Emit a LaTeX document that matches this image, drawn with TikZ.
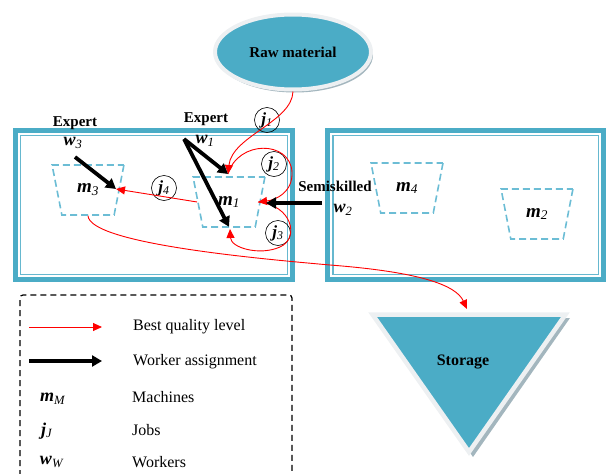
\documentclass[tikz,border=0pt]{standalone}
\usepackage{fontspec}
\setmainfont{Liberation Serif}
\usetikzlibrary{arrows.meta,shapes.geometric,shadows}

\definecolor{tealblue}{HTML}{4BACC6}
\definecolor{paleblue}{HTML}{6CBDD5}
\definecolor{rimgrey}{HTML}{EDF0F2}
\definecolor{shadowgrey}{HTML}{A3B6BE}

\newcommand{\lab}[2]{\textbf{\textit{#1}}\textsubscript{\textit{#2}}}

\tikzset{
  frameout/.style={draw=tealblue, line width=4.6pt},
  framein/.style={draw=tealblue!85, line width=1.2pt},
  machine/.style={trapezium, trapezium stretches=true, shape border rotate=180,
    trapezium angle=71, minimum width=72pt, minimum height=50pt, inner sep=0pt,
    draw=paleblue, line width=1.6pt, dash pattern=on 7pt off 4pt,
    font=\fontsize{19}{19}\selectfont},
  job/.style={circle, draw, line width=0.6pt, minimum size=25pt, inner sep=0pt,
    font=\fontsize{17}{17}\selectfont},
  worker/.style={font=\fontsize{18}{18}\selectfont, inner sep=0pt},
  skill/.style={font=\bfseries\fontsize{15}{15}\selectfont, inner sep=0pt},
  quality/.style={red, line width=0.9pt, -{Triangle[length=9pt,width=8pt]}},
  assign/.style={line width=3.8pt, -{Triangle[length=10pt,width=11pt]}},
  legendtxt/.style={anchor=west, inner sep=0pt, font=\fontsize{16}{16}\selectfont},
}

\begin{document}
\begin{tikzpicture}[x=1pt,y=-1pt]
  \useasboundingbox (0,0) rectangle (606,474);
  % cells
  \draw[frameout] (15.3,130.3) rectangle (292.5,279.5);
  \draw[framein] (20.5,135.5) rectangle (287.5,274.8);
  \draw[frameout] (327.5,130.3) rectangle (603.7,279.5);
  \draw[framein] (333,135.5) rectangle (598.5,274.8);

  % raw material and storage
  \node[ellipse, fill=tealblue, draw=rimgrey, line width=4pt,
    minimum width=156pt, minimum height=75pt,
    drop shadow={shadow xshift=2pt, shadow yshift=-3pt, fill=shadowgrey, opacity=1},
    font=\bfseries\fontsize{15}{15}\selectfont] (raw) at (293,52) {Raw material};
  \fill[shadowgrey] (376,318) -- (570,318) -- (473,457) -- cycle;
  \draw[draw=rimgrey, fill=tealblue, line width=4.5pt] (372.5,314.5) -- (565.5,314.5) -- (469,452) -- cycle;
  \node[font=\bfseries\fontsize{16}{16}\selectfont] (store) at (463,362) {Storage};
  \coordinate (storetop) at (467,309);

  % machines
  \node[machine] (m3) at (88,190) {\lab{m}{3}};
  \node[machine] (m1) at (229,202) {\lab{m}{1}};
  \node[machine] (m4) at (407,188) {\lab{m}{4}};
  \node[machine] (m2) at (537,214) {\lab{m}{2}};

  % workers
  \node[skill] (ex3) at (75,123) {Expert};
  \node[worker] (w3) at (73,143) {\lab{w}{3}};
  \node[skill] (ex1) at (206,119) {Expert};
  \node[worker] (w1) at (205,141) {\lab{w}{1}};
  \node[skill] (semi) at (335,186) {Semiskilled};
  \node[worker] (w2) at (343,210) {\lab{w}{2}};
  \coordinate (w3tail) at (75,157);
  \coordinate (w1tail) at (184,139);
  \coordinate (w2tail) at (322,203);

  % jobs
  \node[job] (j1) at (267,120) {\lab{j}{1}};
  \node[job] (j2) at (274,164) {\lab{j}{2}};
  \node[job] (j4) at (164,188) {\lab{j}{4}};
  \node[job] (j3) at (278,233) {\lab{j}{3}};

  \coordinate (m1in) at (228,174);
  \coordinate (m1out) at (230,229);
  \coordinate (m1side) at (258,202);
  \coordinate (m3side) at (116,189);

  % best quality routes
  \draw[quality] (raw.south) .. controls (292,122) and (232,136) .. (m1in);
  \draw[quality] (m1in) .. controls (238,140) and (290,140) .. (292,172)
    .. controls (293,192) and (276,200) .. (m1side);
  \draw[quality] (m1side) .. controls (292,205) and (300,238) .. (280,247)
    .. controls (260,256) and (231,248) .. (m1out);
  \draw[quality] (m1.west) -- (m3side);
  \draw[quality] (m3.south) .. controls (90,243) and (250,258) .. (330,265)
    .. controls (420,272) and (456,285) .. (storetop);

  % worker assignment
  \draw[assign] (w3tail) -- (m3side);
  \draw[assign] (w1tail) -- (m1in);
  \draw[assign] (w1tail) -- ([yshift=1pt]m1.south);
  \draw[assign] (w2tail) -- (266,203);

  % legend
  \draw[line width=1.2pt, dash pattern=on 6pt off 4pt, rounded corners=3pt]
    (20,476) -- (20,295) -- (292,295) -- (292,476);
  \coordinate (qa) at (29,327);
  \coordinate (qb) at (102,327);
  \coordinate (aa) at (29,361);
  \coordinate (ab) at (102,361);
  \draw[quality] (qa) -- (qb);
  \draw[assign] (aa) -- (ab);
  \node[legendtxt] (lq) at (133,327) {Best quality level};
  \node[legendtxt] (la) at (133,362) {Worker assignment};
  \node[worker] (lm) at (53,399) {\lab{m}{M}};
  \node[legendtxt] (lmt) at (132,397) {Machines};
  \node[worker] (lj) at (47,431) {\lab{j}{J}};
  \node[legendtxt] (ljt) at (132,430) {Jobs};
  \node[worker] (lw) at (52,462) {\lab{w}{W}};
  \node[legendtxt] (lwt) at (132,462) {Workers};
\end{tikzpicture}
\end{document}
